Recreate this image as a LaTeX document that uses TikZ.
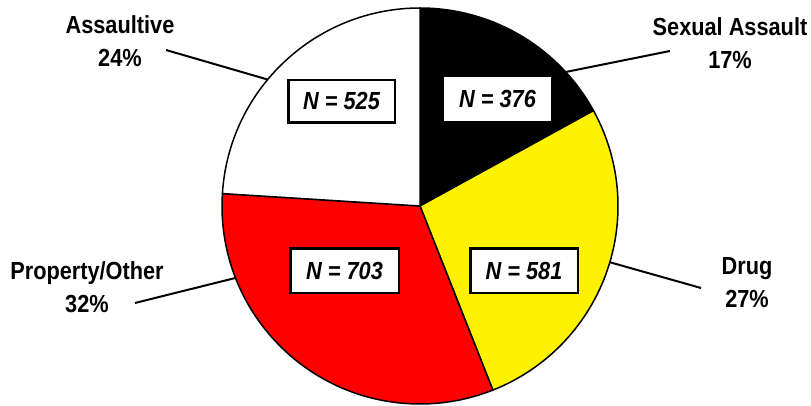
\documentclass[tikz,border=0pt]{standalone}
\usepackage{fontspec}
\setmainfont{Liberation Sans}[FakeStretch=0.88]
\usetikzlibrary{calc}
\begin{document}
\begin{tikzpicture}[x=1pt,y=1pt,
  lbl/.style={font=\fontsize{24.7}{33}\selectfont\bfseries, align=center, anchor=base, inner sep=0},
  nbox/.style={draw=black, fill=white, line width=2.5pt, inner sep=0,
    font=\fontsize{24.7}{28}\selectfont\bfseries\itshape, text height=17pt, text depth=0pt},
  leader/.style={line width=2pt, line cap=butt},
  slice/.style={draw=black, line width=1.5pt, line join=round}]
\useasboundingbox (0,0) rectangle (811,-406);
\def\R{198}
\coordinate (c) at (420,-206);
% slices
\filldraw[slice, fill=black] (c) -- ($(c)+(28.8:\R)$) arc[start angle=28.8, end angle=90, radius=\R] -- cycle;
\filldraw[slice, fill=yellow] (c) -- ($(c)+(-68.4:\R)$) arc[start angle=-68.4, end angle=28.8, radius=\R] -- cycle;
\filldraw[slice, fill=red] (c) -- ($(c)+(176.4:\R)$) arc[start angle=176.4, end angle=291.6, radius=\R] -- cycle;
\filldraw[slice, fill=white] (c) -- ($(c)+(90:\R)$) arc[start angle=90, end angle=176.4, radius=\R] -- cycle;
% leader line ends on the pie edge
\coordinate (eA) at ($(c)+(140.3:\R)$);
\coordinate (eS) at ($(c)+(42.6:\R)$);
\coordinate (eP) at ($(c)+(201.3:\R)$);
\coordinate (eD) at ($(c)+(-16.5:\R)$);
\coordinate (tA) at (166,-50);
\coordinate (tS) at (670,-51);
\coordinate (tP) at (135,-303);
\coordinate (tD) at (701,-288);
\draw[leader] (tA) -- (eA);
\draw[leader] (tS) -- (eS);
\draw[leader] (tP) -- (eP);
\draw[leader] (tD) -- (eD);
% labels (anchor at baseline of the last line)
\node[lbl] (lA) at (120,-67) {Assaultive\\24\%};
\node[lbl] (lS) at (730,-69) {Sexual Assault\\17\%};
\node[lbl] (lP) at (87,-312) {Property/Other\\32\%};
\node[lbl] (lD) at (747,-307) {Drug\\27\%};
% N boxes
\node[nbox, minimum width=106.5pt, minimum height=42.5pt] (n525) at (341.5,-101.5) {N = 525};
\node[nbox, draw=white, minimum width=104.5pt, minimum height=41.5pt] (n376) at (497.5,-99) {N = 376};
\node[nbox, minimum width=108.5pt, minimum height=44.5pt] (n703) at (344.5,-270.5) {N = 703};
\node[nbox, minimum width=107.5pt, minimum height=44.5pt] (n581) at (524,-270.5) {N = 581};
\end{tikzpicture}
\end{document}
